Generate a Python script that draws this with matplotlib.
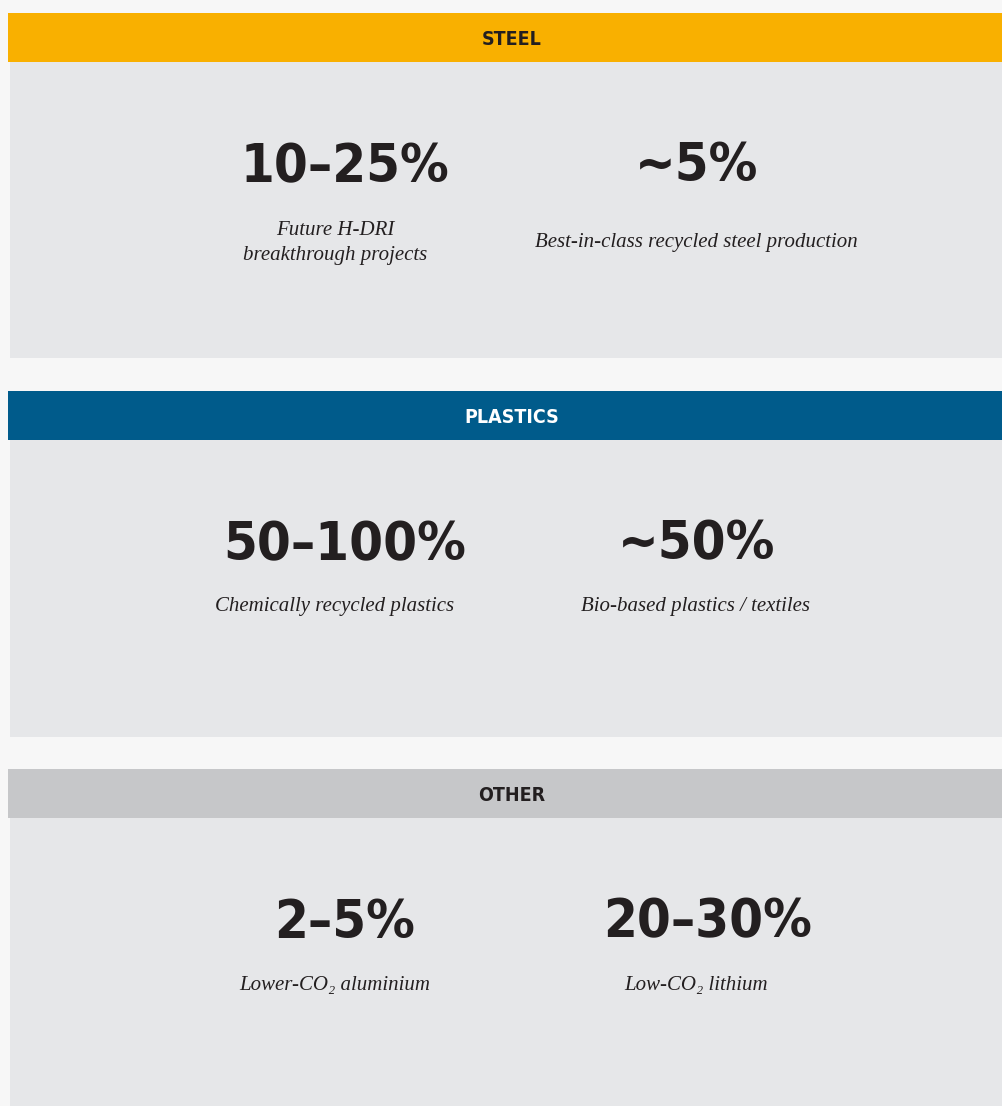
import matplotlib
matplotlib.use("Agg")
import matplotlib.pyplot as plt
from matplotlib.patches import Rectangle

# ---- data ----
sections = ["STEEL", "PLASTICS", "OTHER"]
header_colors = ["#F9B000", "#005B8B", "#C6C7C9"]
header_text_colors = ["#231F20", "#FFFFFF", "#231F20"]
left_values = ["10–25%", "50–100%", "2–5%"]
left_labels = ["Future H-DRI\nbreakthrough projects", "Chemically recycled plastics", "Lower-CO\u2082 aluminium"]
right_values = ["~5%", "~50%", "20–30%"]
right_labels = ["Best-in-class recycled steel production", "Bio-based plastics / textiles", "Low-CO\u2082 lithium"]

W, H = 1003, 1106
fig = plt.figure(figsize=(W / 100, H / 100), dpi=100)
fig.patch.set_facecolor("#F7F7F7")
ax = fig.add_axes([0, 0, 1, 1])
ax.set_xlim(0, W)
ax.set_ylim(H, 0)
ax.axis("off")

num_font = ["Liberation Sans Narrow", "DejaVu Sans"]
num_stretch = "condensed"
lab_font = ["Liberation Serif", "DejaVu Serif"]
txt = "#231F20"

section_tops = [13, 391, 769]
header_h = 49
panel_h = [296, 297, 289]

for i, name in enumerate(sections):
    top = section_tops[i]
    ax.add_patch(Rectangle((10, top + header_h), W - 10, panel_h[i], facecolor="#E6E7E9", edgecolor="none"))
    ax.add_patch(Rectangle((8, top), W - 8, header_h, facecolor=header_colors[i], edgecolor="none"))
    ax.text(512, top + header_h / 2 + 2, name, ha="center", va="center", fontsize=14,
            fontweight="bold", family=num_font, fontstretch=num_stretch, color=header_text_colors[i])

    num_y = top + 154
    ax.text(345, num_y, left_values[i], ha="center", va="center", fontsize=39,
            fontweight="bold", family=num_font, fontstretch=num_stretch, color=txt)
    ax.text(697 if i < 2 else 708, num_y - 1, right_values[i], ha="center", va="center", fontsize=39,
            fontweight="bold", family=num_font, fontstretch=num_stretch, color=txt)

    if i == 0:
        ax.text(335, top + 230, left_labels[i], ha="center", va="center", fontsize=15,
                style="italic", family=lab_font, color=txt, linespacing=1.45)
        ax.text(696, top + 229, right_labels[i], ha="center", va="center", fontsize=15,
                style="italic", family=lab_font, color=txt)
    else:
        ax.text(335, top + 216, left_labels[i], ha="center", va="center", fontsize=15,
                style="italic", family=lab_font, color=txt)
        ax.text(696, top + 216, right_labels[i], ha="center", va="center", fontsize=15,
                style="italic", family=lab_font, color=txt)

fig.savefig("out.png", dpi=100, facecolor=fig.get_facecolor())
